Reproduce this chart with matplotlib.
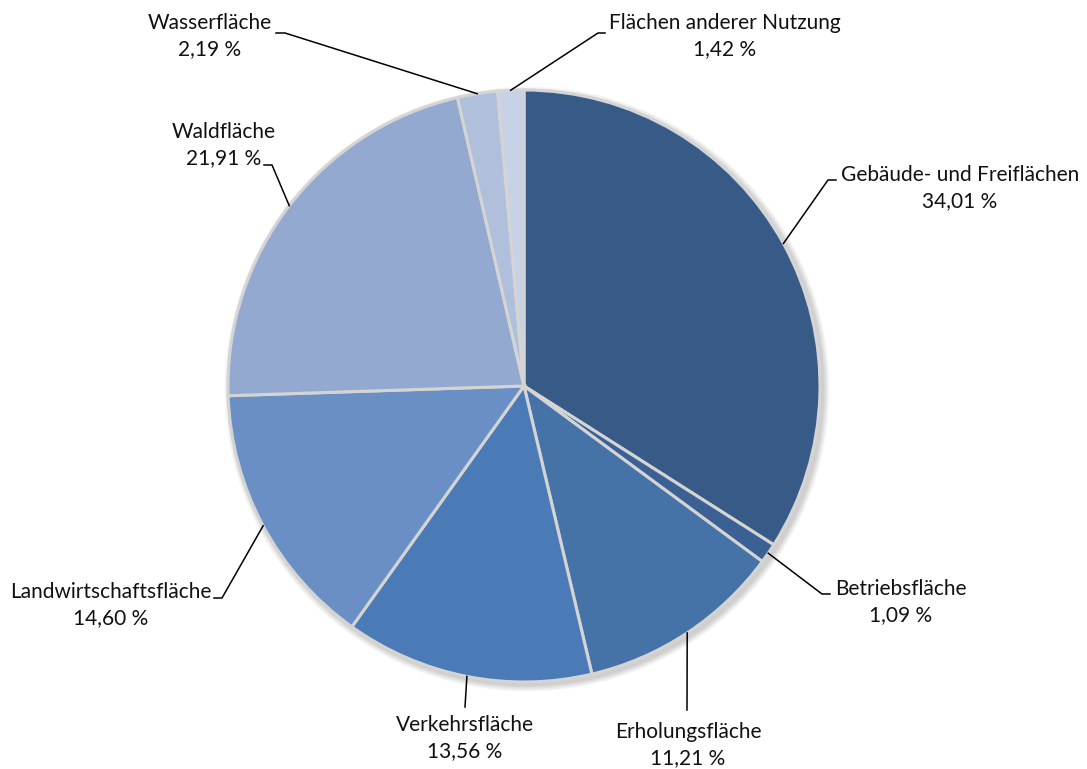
import numpy as np
import matplotlib.pyplot as plt
from matplotlib.patches import Circle

plt.rcParams["font.family"] = ["Lato", "DejaVu Sans"]

# data
labels = ["Gebäude- und Freiflächen", "Betriebsfläche", "Erholungsfläche",
          "Verkehrsfläche", "Landwirtschaftsfläche", "Waldfläche",
          "Wasserfläche", "Flächen anderer Nutzung"]
shares = [34.01, 1.09, 11.21, 13.56, 14.60, 21.91, 2.19, 1.42]
colors = ["#375a87", "#3b6194", "#4573a8", "#4a7bb7", "#6a8fc4",
          "#94a9cf", "#afbfdc", "#c7d2e6"]

# layout in pixel space (y down in the reference, converted below)
W, H = 1087, 769
cx, cy, R = 524, 386, 296
# text centre, elbow point, end of short horizontal stub (None = straight vertical)
label_pos = {
    "Gebäude- und Freiflächen": ((960, 188), (828, 180), (836, 180)),
    "Betriebsfläche": ((901, 602), (822, 594), (830, 594)),
    "Erholungsfläche": ((688, 745), (687, 710), None),
    "Verkehrsfläche": ((465, 738), (465, 707), None),
    "Landwirtschaftsfläche": ((111, 605), (222, 598), (214, 598)),
    "Waldfläche": ((224, 145), (272, 165), (264, 165)),
    "Wasserfläche": ((210, 36), (285, 33), (276, 33)),
    "Flächen anderer Nutzung": ((725, 36), (598, 33), (605, 33)),
}

fig = plt.figure(figsize=(W / 100, H / 100), dpi=100)
ax = fig.add_axes([0, 0, 1, 1])
ax.set_aspect("equal")

def py(y):
    return H - y

# soft shadow behind the pie
for i in range(8):
    ax.add_patch(Circle((cx + 3, py(cy) - 3), R + 1 + i * 0.8, color="#000000",
                        alpha=0.025, zorder=0, lw=0))

wedges, _ = ax.pie(shares, colors=colors, startangle=90, counterclock=False,
                   center=(cx, py(cy)), radius=R, frame=True,
                   wedgeprops=dict(edgecolor="#d4d4d4", linewidth=2.2))
ax.set_xlim(0, W)
ax.set_ylim(0, H)
ax.axis("off")

cum = np.cumsum([0] + shares[:-1])
for lab, val, c0 in zip(labels, shares, cum):
    ang = np.deg2rad(90 - (c0 + val / 2) * 3.6)
    px, pyy = cx + R * np.cos(ang), py(cy) + R * np.sin(ang)
    (tx, ty), (ex, ey), stub = label_pos[lab]
    xs, ys = [px, ex], [pyy, py(ey)]
    if stub is not None:
        xs.append(stub[0]); ys.append(py(stub[1]))
    ax.plot(xs, ys, color="black", lw=1.1, zorder=3)
    txt = f"{lab}\n{val:.2f} %".replace(".", ",")
    ax.text(tx, py(ty), txt, ha="center", va="center", fontsize=15,
            linespacing=1.42, color="#111111")

fig.savefig("out.png", dpi=100)
